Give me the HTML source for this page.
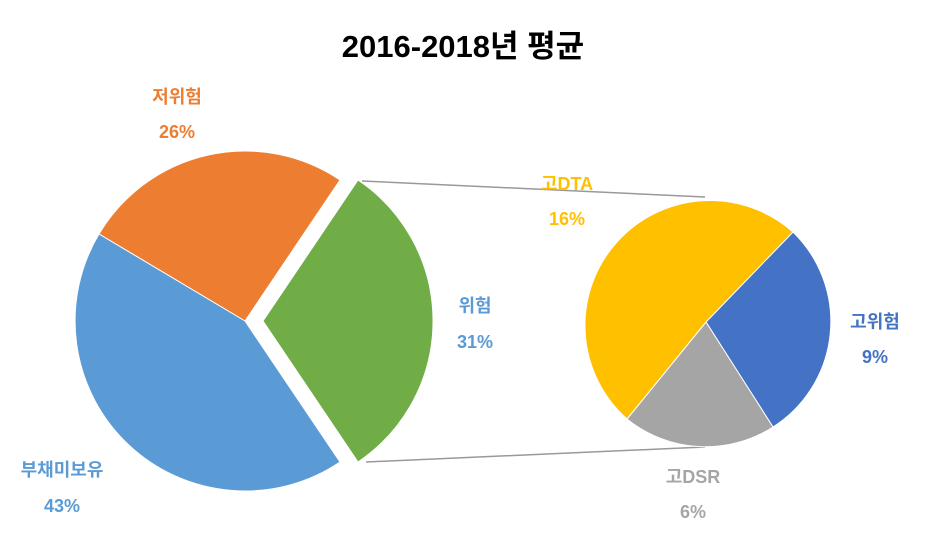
<!DOCTYPE html><html><head><meta charset="utf-8"><style>body{margin:0;background:#fff}svg text{font-family:"Liberation Sans","Noto Sans CJK KR",sans-serif;font-weight:bold}</style></head><body>
<svg width="927" height="537" viewBox="0 0 927 537">
<text x="463" y="57" text-anchor="middle" font-size="31" fill="#000">2016-2018년 평균</text>
<line x1="362" y1="181" x2="705" y2="197" stroke="#999" stroke-width="1.5"/>
<line x1="366" y1="462" x2="705" y2="447" stroke="#999" stroke-width="1.5"/>
<g stroke="#fff" stroke-width="1">
<path d="M245,321 L340,180 A170,170 0 0 0 99,234 Z" fill="#ED7D31"/>
<path d="M245,321 L99,234 A170,170 0 0 0 340,462 Z" fill="#5B9BD5"/>
<path d="M263,321 L358,180 A170,170 0 0 1 358,462 Z" fill="#70AD47"/>
<path d="M706,322 L793,232 A125,125 0 0 1 773,427 Z" fill="#4472C4"/>
<path d="M706,322 L773,427 A125,125 0 0 1 627,419 Z" fill="#A5A5A5"/>
<path d="M706,322 L627,419 A125,125 0 0 1 793,232 Z" fill="#FFC000"/>
</g>
<g font-size="18">
<text x="177" y="103" text-anchor="middle" fill="#ED7D31">저위험</text>
<text x="177" y="138" text-anchor="middle" fill="#ED7D31">26%</text>
<text x="475" y="312" text-anchor="middle" fill="#5B9BD5">위험</text>
<text x="475" y="348" text-anchor="middle" fill="#5B9BD5">31%</text>
<text x="62" y="476" text-anchor="middle" fill="#5B9BD5">부채미보유</text>
<text x="62" y="512" text-anchor="middle" fill="#5B9BD5">43%</text>
<text x="567" y="190" text-anchor="middle" fill="#FFC000">고DTA</text>
<text x="567" y="225" text-anchor="middle" fill="#FFC000">16%</text>
<text x="875" y="328" text-anchor="middle" fill="#4472C4">고위험</text>
<text x="875" y="363" text-anchor="middle" fill="#4472C4">9%</text>
<text x="693" y="483" text-anchor="middle" fill="#A5A5A5">고DSR</text>
<text x="693" y="518" text-anchor="middle" fill="#A5A5A5">6%</text>
</g>
</svg></body></html>
